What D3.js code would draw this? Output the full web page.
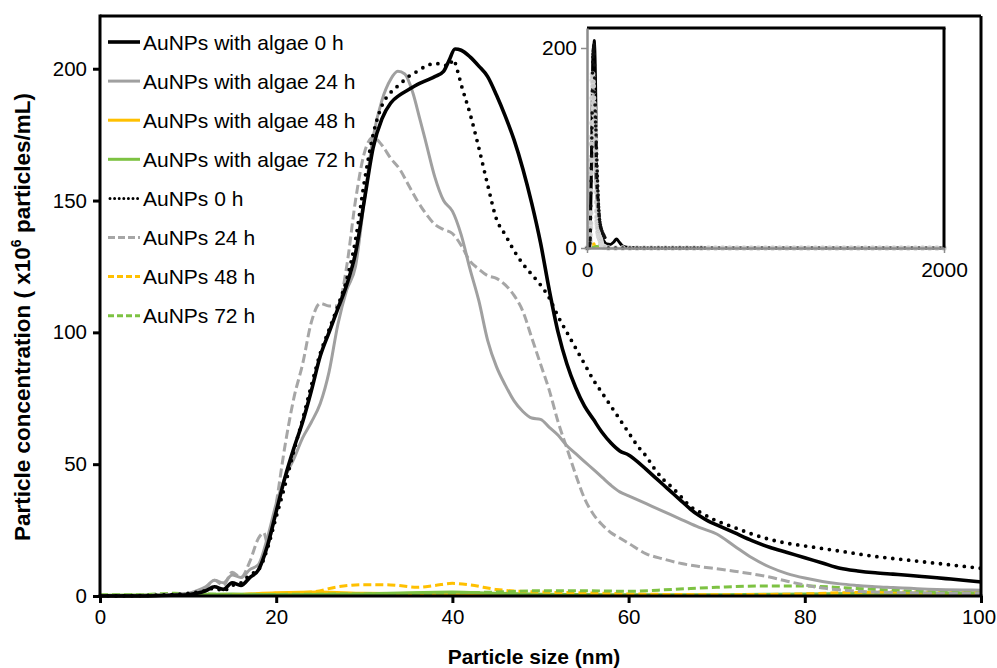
<!DOCTYPE html>
<html>
<head>
<meta charset="utf-8">
<script src="https://cdn.jsdelivr.net/npm/d3@7"></script>
<style>
	body { margin: 0; background: #fff; }
	svg { font-family: 'Liberation Sans', Arial, sans-serif; }
</style>
</head>
<body>
<div id="chart"></div>
<script>
// particle size (nm) vs concentration (x10^6 particles/mL)
const algae0 = [[0,0],[5,0],[8,0.3],[10,0.5],[11,1],[12,2],[13,3.5],[14,2.5],[15,5],[16,4],[17,7],[18,10],[19,19],[20,32],[21,45],[22,56],[23,66],[24,78],[25,91],[26,100],[27,109],[28,118],[29,130],[30,150],[31,170],[32,181],[33,187],[34,190],[35,192],[36,194],[37,195.5],[38,197],[39,199],[39.6,203],[40.3,207.5],[41,207],[42,204.5],[43,201],[44,197],[45,190],[46,182],[47,173],[48,162],[49,149],[50,134],[51,116],[52,100],[53,88],[54,79],[55,72],[56,67],[57,62],[58,58],[59,55],[60,53.5],[61,51],[62,48],[63,45],[64,42],[65,39],[66,36],[67,33],[68,30.5],[69,28.5],[70,27],[72,24],[74,21],[76,18.5],[78,16.5],[80,14.5],[82,12.5],[84,10.5],[86,9.5],[88,8.8],[90,8.3],[92,7.8],[94,7.2],[96,6.6],[98,6],[100,5.3]];
const algae24 = [[0,0],[5,0],[8,0.5],[10,1],[11,2],[12,3.5],[13,6],[14,5],[15,8],[16,7],[17,10],[18,12],[19,22],[20,35],[21,45],[22,52],[23,60],[24,66],[25,73],[26,85],[27,103],[28,116],[29,125],[30,150],[31,174],[32,188],[33,196],[33.8,199],[34.6,198],[35.5,191],[36.3,181],[37,172],[38,159],[39,150],[40,146],[41,137],[42,124],[43,112],[44,97],[45,87],[46,80],[47,74],[48,70],[49,67.5],[50,67],[51,64],[52,61],[53,57],[54,54],[55,51],[56,48],[57,45],[58,42],[59,39.5],[60,38],[62,35],[64,32],[66,29],[68,26],[70,23.5],[72,19],[74,14.5],[76,11],[78,8.5],[80,6.8],[82,5.5],[84,4.6],[86,4],[88,3.5],[90,3.2],[92,2.9],[94,2.6],[96,2.4],[98,2.3],[100,2.2]];
const algae48 = [[0,0],[10,0.3],[15,0.5],[20,1.2],[25,1.5],[30,1],[40,0.8],[50,0.5],[60,0.3],[70,0.3],[80,0.5],[90,0.8],[100,1]];
const algae72 = [[0,0.3],[10,0.5],[15,0.8],[20,0.5],[30,0.8],[40,1.5],[45,1],[50,0.7],[60,0.5],[70,0.5],[80,0.8],[90,1],[100,1.2]];
const aunp0 = [[0,0],[5,0.2],[8,0.5],[10,1],[12,2],[13,3],[14,2],[15,4],[16,5],[17,8],[18,10],[19,18],[20,30],[21,42],[22,55],[23,67],[24,80],[25,92],[26,101],[27,110],[28,120],[29,135],[30,157],[31,175],[32,186],[33,191],[34,194],[35,197],[36,199],[37,201],[38,202],[39,201.5],[39.6,201],[40.1,203.5],[40.6,199],[41,194],[42,183],[43,170],[44,156],[45,143],[46,137],[47,131],[48,126],[49,122],[50,118],[51,113],[52,106],[53,100],[54,94],[55,88],[56,82],[57,77],[58,72],[59,67],[60,62],[61,57],[62,53],[63,48],[64,44],[65,41],[66,37.5],[67,34],[68,32],[70,28.5],[72,26],[74,23.5],[76,21.5],[78,20],[80,19],[84,17],[88,15],[92,13.5],[96,12],[100,10.5]];
const aunp24 = [[0,0],[5,0.3],[8,0.5],[10,1],[11,1.5],[12,3],[13,6],[14,4],[15,9],[16,7],[17,13],[18,22],[18.6,24],[19,20],[19.5,25],[20,35],[21,57],[22,75],[23,88],[24,104],[25,111],[26,110],[27,110],[28,125],[29,150],[30,168],[31,174],[32,171],[33,166],[34,162],[35,156],[36,150],[37,145],[38,141],[39,139],[40,137.5],[41,133],[42,127],[43,124],[44,121.5],[45,120.5],[46,118],[47,114],[48,108],[49,98],[50,88],[51,78],[52,66],[53,56],[54,46],[55,37],[56,31],[57,27],[58,24],[59,22],[60,20],[62,16],[64,14],[66,12.3],[68,11.2],[70,10.3],[72,9.4],[74,8.4],[76,7.2],[78,5.6],[80,4.2],[82,3],[84,2.3],[86,1.8],[88,1.5],[92,1.2],[96,1],[100,0.9]];
const aunp48 = [[0,0],[10,0.3],[15,0.5],[20,1],[24,1.5],[27,3.5],[30,4.3],[33,4.2],[36,3.3],[38,4],[40,4.8],[42,4.2],[45,2.5],[50,1.5],[55,1.2],[60,0.8],[70,0.5],[80,0.8],[85,1.3],[90,1.5],[100,1.5]];
const aunp72 = [[0,0.5],[5,0.5],[8,1],[12,0.8],[15,0.5],[20,0.6],[30,0.8],[40,1.2],[45,1.5],[50,2],[55,2],[60,1.8],[65,2.5],[70,3.3],[75,3.8],[80,3.8],[85,3],[90,2.2],[95,1.5],[100,1.2]];

// inset (0-2000 nm) extra points beyond 100 nm
const algae0Tail = [[110,4],[130,3.5],[150,6],[165,9],[180,6],[200,2],[230,0.5],[300,0],[2000,0]];
const tailSizes = [120,160,200,240,280,320,360,400,440,480,520,560,600,640,680,720,760,800,840,880,920,960,1000,1040,1080,1120,1160,1200,1240,1280,1320,1360,1400,1440,1480,1520,1560,1600,1640,1680,1720,1760,1800,1840,1880,1920,1960,2000];
const aunp0TailEnd = 640;

const legendLabels = ['AuNPs with algae 0 h', 'AuNPs with algae 24 h', 'AuNPs with algae 48 h', 'AuNPs with algae 72 h', 'AuNPs 0 h', 'AuNPs 24 h', 'AuNPs 48 h', 'AuNPs 72 h'];
const xTicks = [0, 20, 40, 60, 80, 100];
const yTicks = [0, 50, 100, 150, 200];
const xTicksInset = [0, 2000];
const yTicksInset = [0, 200];

const series = [
	{ data: algae0, color: '#000', width: 3.6, dash: null, legDash: null },
	{ data: algae24, color: '#a0a0a0', width: 3, dash: null, legDash: null },
	{ data: algae48, color: '#ffc000', width: 3, dash: null, legDash: null },
	{ data: algae72, color: '#7dc242', width: 3, dash: null, legDash: null },
	{ data: aunp0, color: '#000', width: 3.8, dash: '0,8', legDash: '0,4.6', round: true },
	{ data: aunp24, color: '#a6a6a6', width: 3, dash: '9,4', legDash: '7,3' },
	{ data: aunp48, color: '#ffc000', width: 3, dash: '8,4', legDash: '6,3' },
	{ data: aunp72, color: '#7dc242', width: 3, dash: '8,4', legDash: '6,3' }
];
// draw order: lightest/flat first so black stays on top
const drawOrder = [2, 3, 6, 7, 5, 1, 4, 0];

const W = 997, H = 668;
const svg = d3.select('#chart').append('svg').attr('width', W).attr('height', H);

const x = d3.scaleLinear().domain([0, 100]).range([100, 981]);
const y = d3.scaleLinear().domain([0, 220]).range([596, 16]);

svg.append('defs').append('clipPath').attr('id', 'plotClip')
	.append('rect').attr('x', 100).attr('y', 16).attr('width', 881).attr('height', 582);

const line = d3.line().x((d) => x(d[0])).y((d) => y(d[1])).curve(d3.curveMonotoneX);

const plot = svg.append('g').attr('clip-path', 'url(#plotClip)');
drawOrder.forEach((i) => {
	const s = series[i];
	plot.append('path')
		.datum(s.data)
		.attr('fill', 'none')
		.attr('stroke', s.color)
		.attr('stroke-width', s.width)
		.attr('stroke-dasharray', s.dash)
		.attr('stroke-linecap', s.round ? 'round' : 'butt')
		.attr('stroke-linejoin', 'round')
		.attr('d', line);
});

// frame top + right
svg.append('line').attr('x1', 100).attr('x2', 981).attr('y1', 16).attr('y2', 16).attr('stroke', '#000').attr('stroke-width', 3);
svg.append('line').attr('x1', 981).attr('x2', 981).attr('y1', 16).attr('y2', 597).attr('stroke', '#000').attr('stroke-width', 3);

// axes
const xAxis = svg.append('g').attr('transform', 'translate(0,596)')
	.call(d3.axisBottom(x).tickValues(xTicks).tickSize(7).tickPadding(6).tickSizeOuter(0));
const yAxis = svg.append('g').attr('transform', 'translate(100,0)')
	.call(d3.axisLeft(y).tickValues(yTicks).tickSize(7).tickPadding(6).tickSizeOuter(0));
[xAxis, yAxis].forEach((ax) => {
	ax.select('.domain').attr('stroke', '#000').attr('stroke-width', 3);
	ax.selectAll('.tick line').attr('stroke', '#000').attr('stroke-width', 3);
	ax.selectAll('.tick text').attr('fill', '#000').style('font-size', '20.5px').style('font-family', "'Liberation Sans', Arial, sans-serif");
});
// last x label sits flush with the right edge
xAxis.selectAll('.tick text').filter((d) => d === 100).attr('dx', -2.5);
xAxis.select('.domain').attr('d', 'M98.5,0H982.5');
yAxis.select('.domain').attr('d', 'M0,14.5V598');

// axis titles
svg.append('text')
	.attr('x', 534).attr('y', 664)
	.attr('text-anchor', 'middle')
	.style('font-size', '21px').style('font-weight', 'bold')
	.text('Particle size (nm)');

const yTitle = svg.append('text')
	.attr('transform', 'translate(30,317) rotate(-90)')
	.attr('text-anchor', 'middle')
	.style('font-size', '22.5px').style('font-weight', 'bold');
yTitle.append('tspan').text('Particle concentration ( x10');
yTitle.append('tspan').attr('dy', -9).style('font-size', '14px').text('6');
yTitle.append('tspan').attr('dy', 9).text(' particles/mL)');

// legend
const legend = svg.append('g');
legendLabels.forEach((label, i) => {
	const s = series[i];
	const ly = 42 + i * 39.1;
	legend.append('line')
		.attr('x1', s.round ? 110 : 108).attr('x2', 140)
		.attr('y1', ly).attr('y2', ly)
		.attr('stroke', s.color)
		.attr('stroke-width', s.round ? 3 : s.width)
		.attr('stroke-dasharray', s.legDash)
		.attr('stroke-linecap', s.round ? 'round' : 'butt');
	legend.append('text')
		.attr('x', 143).attr('y', ly).attr('dy', '0.36em')
		.style('font-size', '21px')
		.text(label);
});

// inset
const xi = d3.scaleLinear().domain([0, 2000]).range([587, 944]);
const yi = d3.scaleLinear().domain([0, 220]).range([248, 28]);
const inset = svg.append('g');
inset.append('rect').attr('x', 587).attr('y', 28).attr('width', 357).attr('height', 220).attr('fill', '#fff');
const lineI = d3.line().x((d) => xi(d[0])).y((d) => yi(d[1])).curve(d3.curveMonotoneX);

const tailZeros = tailSizes.map((s) => [s, 0]);
const aunp0Full = aunp0.concat(tailZeros.filter((d) => d[0] <= aunp0TailEnd));
const aunp24Full = aunp24.concat(tailZeros);

inset.append('path').datum(aunp24Full).attr('fill', 'none').attr('stroke', '#d0d0d0').attr('stroke-width', 2.5).attr('d', lineI);
[algae48, algae72, aunp48, aunp72].forEach((dd, k) => {
	inset.append('path').datum(dd).attr('fill', 'none')
		.attr('stroke', ['#ffc000', '#7dc242', '#ffc000', '#7dc242'][k]).attr('stroke-width', 2).attr('d', lineI);
});
inset.append('path').datum(algae24).attr('fill', 'none').attr('stroke', '#909090').attr('stroke-width', 3).attr('d', lineI);
inset.append('path').datum(algae0.concat(algae0Tail)).attr('fill', 'none').attr('stroke', '#000').attr('stroke-width', 3).attr('d', lineI);
inset.selectAll('.m24').data(aunp24Full).join('circle')
	.attr('cx', (d) => xi(d[0])).attr('cy', (d) => yi(d[1])).attr('r', 2.6)
	.attr('fill', '#c8c8c8').attr('stroke', '#e0e0e0').attr('stroke-width', 0.6);
inset.selectAll('.m0').data(aunp0Full).join('circle')
	.attr('cx', (d) => xi(d[0])).attr('cy', (d) => yi(d[1])).attr('r', 1.8)
	.attr('fill', '#111');

// inset frame: gray left/bottom, black top/right
inset.append('line').attr('x1', 587).attr('x2', 945.5).attr('y1', 28).attr('y2', 28).attr('stroke', '#000').attr('stroke-width', 3);
inset.append('line').attr('x1', 944).attr('x2', 944).attr('y1', 28).attr('y2', 248).attr('stroke', '#000').attr('stroke-width', 3);
const xAxisI = inset.append('g').attr('transform', 'translate(0,248)')
	.call(d3.axisBottom(xi).tickValues(xTicksInset).tickFormat(d3.format('d')).tickSize(5).tickPadding(9).tickSizeOuter(0));
const yAxisI = inset.append('g').attr('transform', 'translate(587,0)')
	.call(d3.axisLeft(yi).tickValues(yTicksInset).tickFormat(d3.format('d')).tickSize(6).tickPadding(4).tickSizeOuter(0));
[xAxisI, yAxisI].forEach((ax) => {
	ax.select('.domain').attr('stroke', '#8c8c8c').attr('stroke-width', 2.5);
	ax.selectAll('.tick line').attr('stroke', '#8c8c8c').attr('stroke-width', 1.5);
	ax.selectAll('.tick text').attr('fill', '#000').style('font-size', '21px').style('font-family', "'Liberation Sans', Arial, sans-serif");
});
</script>
</body>
</html>
